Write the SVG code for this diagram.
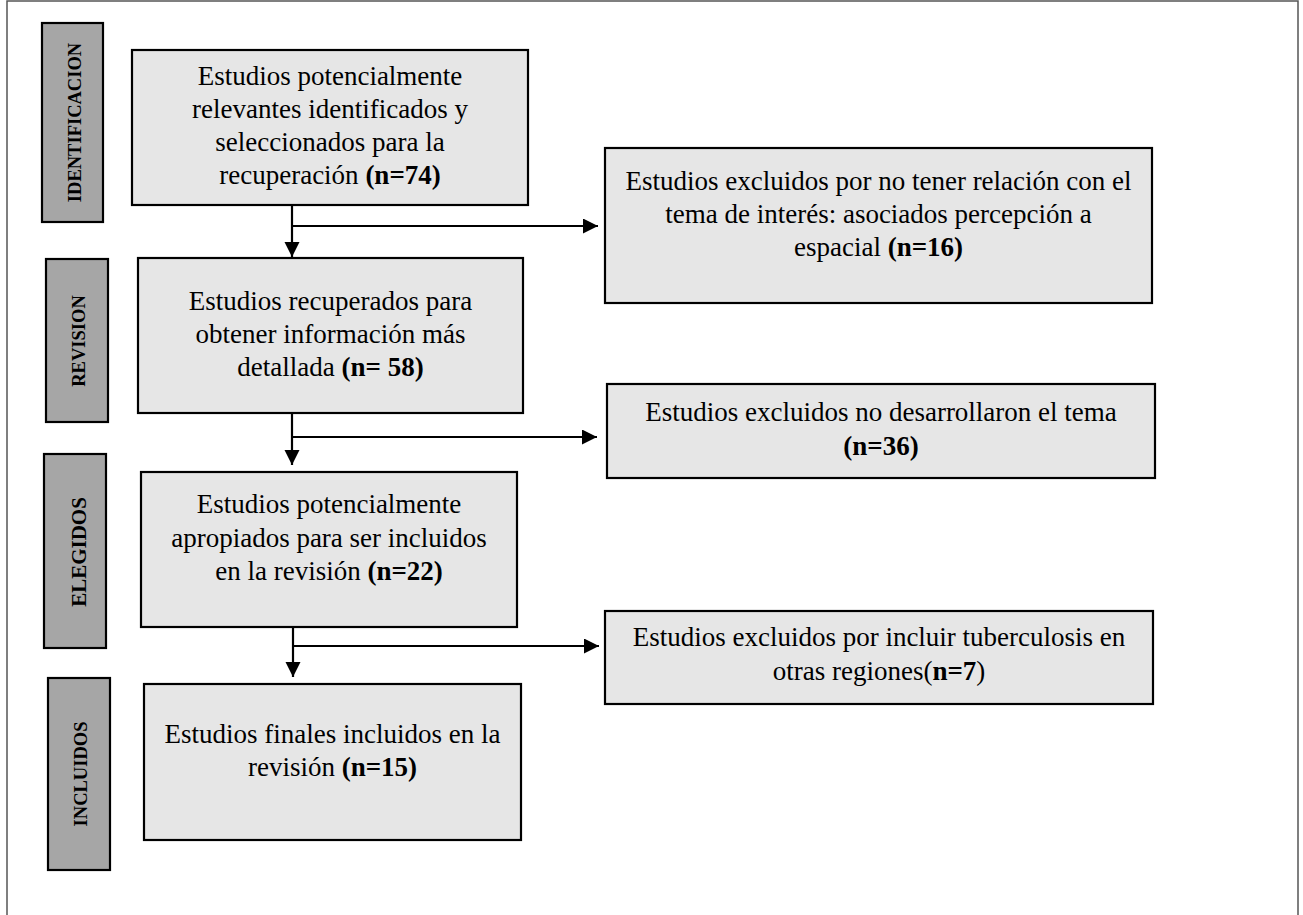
<svg xmlns="http://www.w3.org/2000/svg" width="1303" height="915" viewBox="0 0 1303 915">
<defs>
<style>
.frame{fill:#fff;stroke:#555;stroke-width:1.5}
.box{fill:#e6e6e6;stroke:#000;stroke-width:2.2}
.lab{fill:#a6a6a6;stroke:#000;stroke-width:2.2}
.t{font-family:"Liberation Serif","Times New Roman",serif;font-size:27px;fill:#000;text-anchor:middle}
.v{font-family:"Liberation Serif","Times New Roman",serif;font-size:18.5px;font-weight:bold;fill:#000;text-anchor:middle}
.b{font-weight:bold}
.ln{fill:none;stroke:#000;stroke-width:2.2}
</style>
<marker id="ah" markerWidth="16" markerHeight="16" refX="15" refY="7.5" orient="auto" markerUnits="userSpaceOnUse">
<path d="M0,0 L15,7.5 L0,15 Z" fill="#000"/>
</marker>
</defs>
<rect x="0" y="0" width="1303" height="915" fill="#fff"/>
<rect class="frame" x="7" y="1" width="1291" height="930"/>

<g id="lab-identificacion">
<rect class="lab" x="42" y="23" width="61" height="199"/>
<text class="v" transform="translate(81,122.5) rotate(-90)">IDENTIFICACION</text>
</g>
<g id="lab-revision">
<rect class="lab" x="46" y="259" width="62" height="163"/>
<text class="v" transform="translate(85,341) rotate(-90)">REVISION</text>
</g>
<g id="lab-elegidos">
<rect class="lab" x="44" y="454" width="62" height="194"/>
<text class="v" style="font-size:21px" transform="translate(86,552) rotate(-90)">ELEGIDOS</text>
</g>
<g id="lab-incluidos">
<rect class="lab" x="48" y="678" width="62" height="192"/>
<text class="v" transform="translate(87,774) rotate(-90)">INCLUIDOS</text>
</g>

<g id="box1">
<rect class="box" x="132" y="50" width="396" height="155"/>
<text class="t" x="330" y="85">Estudios potencialmente</text>
<text class="t" x="330" y="118">relevantes identificados y</text>
<text class="t" x="330" y="151">seleccionados para la</text>
<text class="t" x="330" y="184">recuperación <tspan class="b">(n=74)</tspan></text>
</g>
<g id="box2">
<rect class="box" x="138" y="258" width="385" height="155"/>
<text class="t" x="330.5" y="310">Estudios recuperados para</text>
<text class="t" x="330.5" y="343">obtener información más</text>
<text class="t" x="330.5" y="376">detallada <tspan class="b">(n= 58)</tspan></text>
</g>
<g id="box3">
<rect class="box" x="141" y="472" width="376" height="155"/>
<text class="t" x="329" y="513">Estudios potencialmente</text>
<text class="t" x="329" y="547">apropiados para ser incluidos</text>
<text class="t" x="329" y="580">en la revisión <tspan class="b">(n=22)</tspan></text>
</g>
<g id="box4">
<rect class="box" x="144" y="684" width="377" height="156"/>
<text class="t" x="332.5" y="743">Estudios finales incluidos en la</text>
<text class="t" x="332.5" y="776">revisión <tspan class="b">(n=15)</tspan></text>
</g>
<g id="excl1">
<rect class="box" x="605" y="148" width="547" height="155"/>
<text class="t" x="878.5" y="190">Estudios excluidos por no tener relación con el</text>
<text class="t" x="878.5" y="223">tema de interés: asociados percepción a</text>
<text class="t" x="878.5" y="256">espacial <tspan class="b">(n=16)</tspan></text>
</g>
<g id="excl2">
<rect class="box" x="607" y="384" width="548" height="94"/>
<text class="t" x="881" y="421">Estudios excluidos no desarrollaron el tema</text>
<text class="t b" x="881" y="455">(n=36)</text>
</g>
<g id="excl3">
<rect class="box" x="605" y="611" width="548" height="93"/>
<text class="t" x="879" y="646">Estudios excluidos por incluir tuberculosis en</text>
<text class="t" x="879" y="680">otras regiones(<tspan class="b">n=7</tspan>)</text>
</g>

<g id="connectors">
<path class="ln" d="M292,205 V257" marker-end="url(#ah)"/>
<path class="ln" d="M292,226 H598" marker-end="url(#ah)"/>
<path class="ln" d="M292,413 V465" marker-end="url(#ah)"/>
<path class="ln" d="M292,437 H597" marker-end="url(#ah)"/>
<path class="ln" d="M293,627 V677" marker-end="url(#ah)"/>
<path class="ln" d="M293,646 H599" marker-end="url(#ah)"/>
</g>
</svg>
